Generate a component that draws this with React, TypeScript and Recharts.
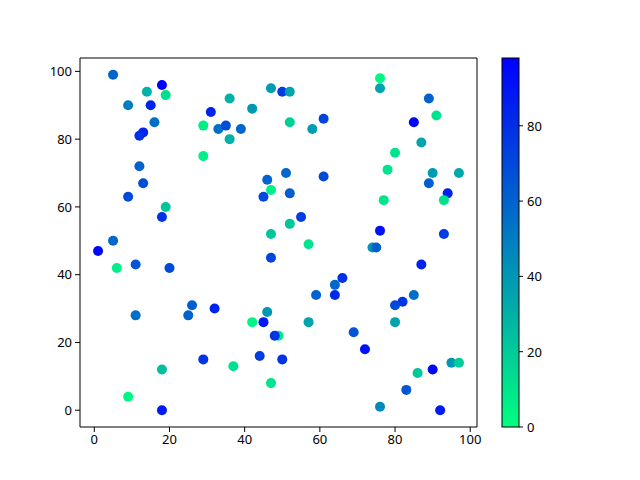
import { ReferenceArea, Scatter, ScatterChart, XAxis, YAxis, Cell } from "recharts";

// scatter values (x, y, colour value)
const xs = [
  5, 14, 18, 19, 9, 15, 31, 36, 42, 47, 50, 52, 16, 13, 12, 29, 33, 35, 39, 36,
  29, 12, 13, 9, 19, 18, 5, 46, 47, 45, 47, 76, 76, 89, 91, 85, 52, 58, 61, 87,
  80, 78, 90, 97, 89, 94, 93, 77, 51, 61, 52, 55, 52, 57, 76, 93, 74, 75, 1, 6,
  11, 20, 47, 11, 26, 25, 32, 46, 42, 45, 49, 48, 29, 44, 50, 18, 37, 47, 9, 18,
  87, 66, 64, 59, 64, 85, 82, 80, 57, 80, 69, 72, 95, 97, 86, 90, 83, 76, 92,
];
const ys = [
  99, 94, 96, 93, 90, 90, 88, 92, 89, 95, 94, 94, 85, 82, 81, 84, 83, 84, 83, 80,
  75, 72, 67, 63, 60, 57, 50, 68, 65, 63, 52, 98, 95, 92, 87, 85, 85, 83, 86, 79,
  76, 71, 70, 70, 67, 64, 62, 62, 70, 69, 64, 57, 55, 49, 53, 52, 48, 48, 47, 42,
  43, 42, 45, 28, 31, 28, 30, 29, 26, 26, 22, 22, 15, 16, 15, 12, 13, 8, 4, 0,
  43, 39, 37, 34, 34, 34, 32, 31, 26, 26, 23, 18, 14, 14, 11, 12, 6, 1, 0,
];
const cs = [
  60, 30, 98, 12, 50, 85, 85, 30, 40, 38, 75, 35, 55, 85, 80, 6, 55, 68, 58, 30,
  6, 60, 68, 70, 22, 78, 58, 60, 6, 70, 22, 3, 35, 60, 10, 98, 18, 38, 72, 35,
  10, 10, 38, 33, 62, 85, 12, 10, 58, 70, 62, 75, 22, 10, 92, 75, 40, 62, 95, 6,
  65, 70, 72, 55, 62, 60, 85, 40, 4, 88, 8, 78, 78, 75, 78, 25, 12, 10, 3, 88,
  85, 80, 58, 60, 82, 55, 78, 70, 35, 35, 65, 92, 40, 20, 22, 95, 65, 45, 88,
];

const xTicks = [0, 20, 40, 60, 80, 100];
const yTicks = [0, 20, 40, 60, 80, 100];
const cbTicks = [0, 20, 40, 60, 80];

const C_MAX = 98;
const FONT = "'Noto Sans', 'Open Sans', sans-serif";

// winter_r colour map
const winterR = (c: number) => {
  const s = Math.max(0, Math.min(1, c / C_MAX));
  const g = Math.round(255 * (1 - s));
  const b = Math.round(255 * (0.5 + 0.5 * s));
  return `rgb(0,${g},${b})`;
};

const data = xs.map((x, i) => ({ x, y: ys[i], c: cs[i] }));

const Colorbar = () => {
  const left = 502;
  const top = 58;
  const w = 17;
  const h = 369;
  const bottom = top + h;
  const pxPer = h / C_MAX;
  return (
    <svg
      width={640}
      height={480}
      style={{ position: "absolute", left: 0, top: 0, pointerEvents: "none" }}
    >
      <defs>
        <linearGradient id="cb" x1="0" y1="1" x2="0" y2="0">
          <stop offset="0%" stopColor={winterR(0)} />
          <stop offset="100%" stopColor={winterR(C_MAX)} />
        </linearGradient>
      </defs>
      <rect x={left} y={top} width={w} height={h} fill="url(#cb)" stroke="#000" strokeWidth={1} />
      {cbTicks.map((t) => {
        const y = bottom - t * pxPer;
        return (
          <g key={t}>
            <line x1={left + w} x2={left + w + 4} y1={y} y2={y} stroke="#000" />
            <text
              x={left + w + 8}
              y={y}
              dominantBaseline="central"
              fontSize={13}
              fontFamily={FONT}
              fill="#000"
            >
              {t}
            </text>
          </g>
        );
      })}
    </svg>
  );
};

const App = () => {
  return (
    <div style={{ position: "absolute", left: 0, top: 0, width: 640, height: 480, background: "#fff" }}>
      <ScatterChart
        width={640}
        height={480}
        margin={{ top: 58, right: 163, bottom: 23, left: 40 }}
      >
        <XAxis
          type="number"
          dataKey="x"
          domain={[-3.8, 101.8]}
          ticks={xTicks}
          allowDataOverflow
          height={30}
          tickSize={5}
          tickMargin={3}
          axisLine={false}
          tickLine={{ stroke: "#000" }}
          tick={{ fill: "#000", fontSize: 13, fontFamily: FONT }}
        />
        <YAxis
          type="number"
          dataKey="y"
          domain={[-4.95, 103.95]}
          ticks={yTicks}
          allowDataOverflow
          width={40}
          tickSize={5}
          tickMargin={3}
          axisLine={false}
          tickLine={{ stroke: "#000" }}
          tick={{ fill: "#000", fontSize: 13, fontFamily: FONT }}
        />
        <ReferenceArea
          x1={-3.8}
          x2={101.8}
          y1={-4.95}
          y2={103.95}
          fill="none"
          fillOpacity={0}
          stroke="#000"
          strokeWidth={1}
          strokeOpacity={1}
        />
        <Scatter data={data} isAnimationActive={false} shape={(p: any) => (
          <circle cx={p.cx} cy={p.cy} r={5} fill={p.fill} />
        )}>
          {data.map((d, i) => (
            <Cell key={i} fill={winterR(d.c)} />
          ))}
        </Scatter>
      </ScatterChart>
      <Colorbar />
    </div>
  );
};

export default App;
